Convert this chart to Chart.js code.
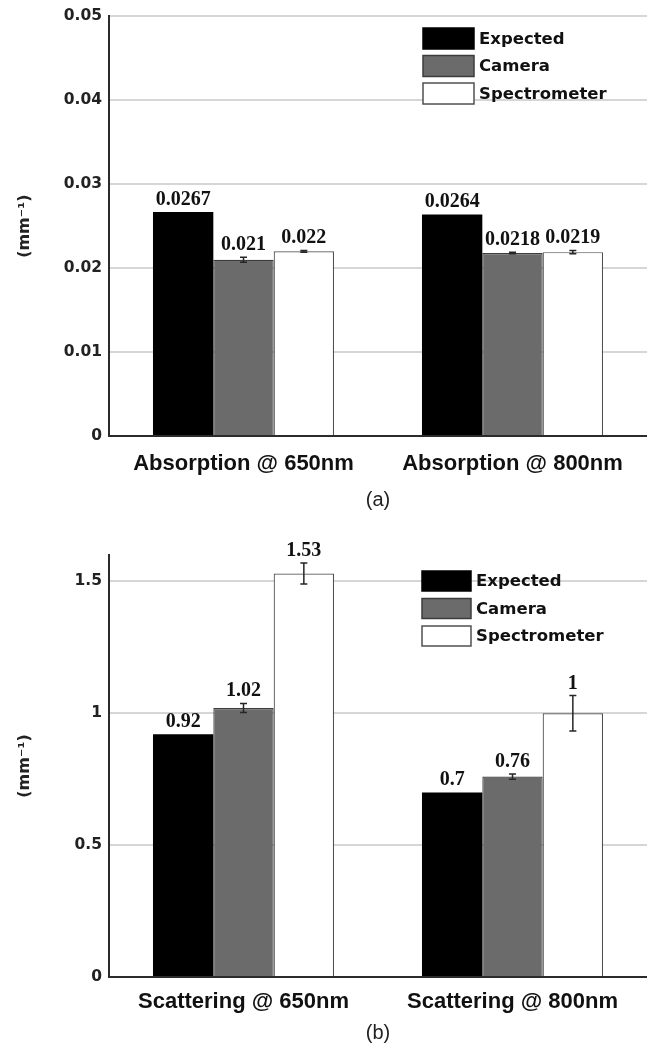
<!DOCTYPE html>
<html>
<head>
<meta charset="utf-8">
<title>Absorption and scattering</title>
<script src="https://cdn.jsdelivr.net/npm/chart.js@4.4.1/dist/chart.umd.min.js"></script>
<style>
  body { margin: 0; background: #fff; }
  canvas { display: block; }
</style>
</head>
<body>
<canvas id="absChart" width="647" height="520"></canvas>
<canvas id="scatChart" width="647" height="528"></canvas>
<script>
const seriesNames = ["Expected", "Camera", "Spectrometer"];
const seriesFill = ["#000000", "#6b6b6b", "#ffffff"];
const seriesEdge = ["#000000", "#3c3c3c", "#505050"];

// (a) absorption coefficients
const absLabels = ["Absorption @ 650nm", "Absorption @ 800nm"];
const absExpected = [0.0267, 0.0264];
const absCamera = [0.021, 0.0218];
const absSpectrometer = [0.022, 0.0219];
const absCameraErr = [0.0003, 0.0001];
const absSpectrometerErr = [0.0001, 0.0002];
const absTicks = [0, 0.01, 0.02, 0.03, 0.04, 0.05];

// (b) scattering coefficients
const scatLabels = ["Scattering @ 650nm", "Scattering @ 800nm"];
const scatExpected = [0.92, 0.7];
const scatCamera = [1.02, 0.76];
const scatSpectrometer = [1.53, 1];
const scatCameraErr = [0.017, 0.01];
const scatSpectrometerErr = [0.04, 0.067];
const scatTicks = [0, 0.5, 1, 1.5];

// error bars + value text above each bar
const barExtras = {
    id: "barExtras",
    afterDatasetsDraw(chart) {
        const ctx = chart.ctx;
        const y = chart.scales.y;
        ctx.save();
        chart.data.datasets.forEach((ds, di) => {
            chart.getDatasetMeta(di).data.forEach((bar, i) => {
                const v = ds.data[i];
                const err = ds.errors ? ds.errors[i] : 0;
                let top = y.getPixelForValue(v);
                if (err) {
                    const hi = y.getPixelForValue(v + err);
                    const lo = y.getPixelForValue(v - err);
                    ctx.strokeStyle = "#262626";
                    ctx.lineWidth = 1.5;
                    ctx.beginPath();
                    ctx.moveTo(bar.x, hi);
                    ctx.lineTo(bar.x, lo);
                    ctx.moveTo(bar.x - 3.5, hi);
                    ctx.lineTo(bar.x + 3.5, hi);
                    ctx.moveTo(bar.x - 3.5, lo);
                    ctx.lineTo(bar.x + 3.5, lo);
                    ctx.stroke();
                    top = Math.min(top, hi);
                }
                ctx.fillStyle = "#111";
                ctx.font = "bold 20px 'Liberation Serif'";
                ctx.textAlign = "center";
                ctx.textBaseline = "alphabetic";
                ctx.fillText(String(v), bar.x, top - 7);
            });
        });
        ctx.restore();
    }
};

// legend with boxes stacked inside the plot
const boxLegend = {
    id: "boxLegend",
    afterDraw(chart, args, opts) {
        const ctx = chart.ctx;
        ctx.save();
        ctx.font = "bold 16.5px 'DejaVu Sans'";
        ctx.textBaseline = "middle";
        ctx.textAlign = "left";
        chart.data.datasets.forEach((ds, i) => {
            const top = opts.y + i * opts.step;
            ctx.fillStyle = ds.backgroundColor;
            ctx.fillRect(opts.x, top, opts.w, opts.h);
            ctx.strokeStyle = i === 0 ? "#000" : ds.borderColor;
            ctx.lineWidth = 1.5;
            ctx.strokeRect(opts.x, top, opts.w, opts.h);
            ctx.fillStyle = "#111";
            ctx.fillText(ds.label, opts.x + opts.w + 5, top + opts.h / 2 + 1);
        });
        ctx.restore();
    }
};

function makeChart(id, labels, values, errors, ticks, yMax, caption, layout) {
    return new Chart(document.getElementById(id), {
        type: "bar",
        data: {
            labels: labels,
            datasets: seriesNames.map((name, i) => ({
                label: name,
                data: values[i],
                errors: errors[i],
                backgroundColor: seriesFill[i],
                borderColor: seriesEdge[i],
                borderWidth: i === 0 ? 0 : 1.2,
                categoryPercentage: 0.673,
                barPercentage: 1
            }))
        },
        options: {
            responsive: false,
            animation: false,
            layout: {padding: {top: layout.top, right: 0, left: 0, bottom: 0}},
            scales: {
                x: {
                    grid: {display: false, drawTicks: false},
                    border: {color: "#2b2b2b", width: 2},
                    ticks: {
                        color: "#111",
                        padding: layout.tickPad,
                        font: {family: "Liberation Sans", size: 22, weight: "bold"}
                    },
                    title: {
                        display: true,
                        text: caption,
                        color: "#222",
                        padding: {top: 0, bottom: layout.capPad},
                        font: {family: "Liberation Sans", size: 20}
                    },
                    afterFit: s => { s.height = layout.xHeight; }
                },
                y: {
                    min: 0,
                    max: yMax,
                    grid: {color: "#d6d6d6", lineWidth: 2, drawTicks: false},
                    border: {color: "#2b2b2b", width: 2},
                    afterBuildTicks: s => { s.ticks = ticks.map(v => ({value: v})); },
                    ticks: {
                        color: "#222",
                        padding: 7,
                        callback: v => String(v),
                        font: {family: "DejaVu Sans", size: 15.5, weight: "bold"}
                    },
                    title: {
                        display: true,
                        text: "(mm⁻¹)",
                        color: "#222",
                        padding: {top: 15, bottom: 0},
                        font: {family: "DejaVu Sans", size: 16, weight: "bold"}
                    },
                    afterFit: s => { s.width = 109; }
                }
            },
            plugins: {
                legend: {display: false},
                tooltip: {enabled: false},
                boxLegend: layout.legend
            }
        },
        plugins: [barExtras, boxLegend]
    });
}

makeChart("absChart", absLabels,
    [absExpected, absCamera, absSpectrometer],
    [null, absCameraErr, absSpectrometerErr],
    absTicks, 0.05, "(a)",
    {top: 14, tickPad: 15, capPad: 8, xHeight: 84,
     legend: {x: 423, y: 28, w: 51, h: 21, step: 27.5}});

makeChart("scatChart", scatLabels,
    [scatExpected, scatCamera, scatSpectrometer],
    [null, scatCameraErr, scatSpectrometerErr],
    scatTicks, 1.6, "(b)",
    {top: 35, tickPad: 12, capPad: 3, xHeight: 71,
     legend: {x: 422, y: 51, w: 49, h: 20, step: 27.5}});
</script>
</body>
</html>
